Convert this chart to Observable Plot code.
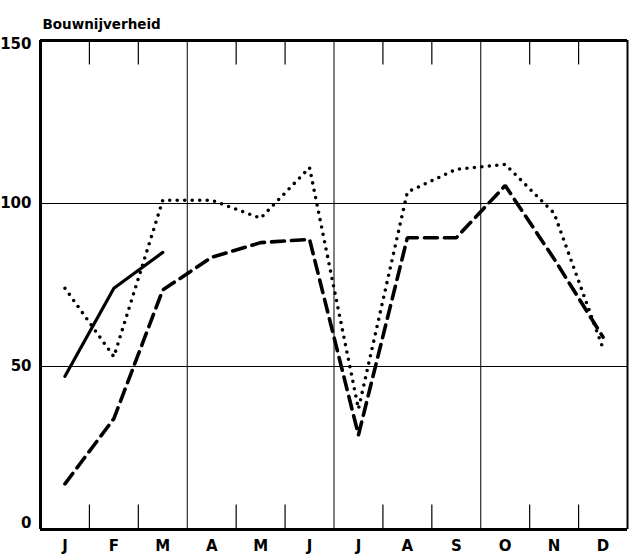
<!DOCTYPE html>
<html>
<head>
<meta charset="utf-8">
<script src="https://cdn.jsdelivr.net/npm/d3@7"></script>
<script src="https://cdn.jsdelivr.net/npm/@observablehq/plot@0.6"></script>
<style>
  html, body { margin: 0; padding: 0; background: #fff; }
  #chart svg { display: block; }
</style>
</head>
<body>
<div id="chart"></div>
<script>
const months = ["J","F","M","A","M","J","J","A","S","O","N","D"];
const solidSeries = [47, 74, 85];
const dottedSeries = [74, 53, 101, 101, 95.5, 111, 37, 103.5, 110.5, 112, 97, 55.5];
const dashedSeries = [14, 34, 73.5, 83.5, 88, 89, 29, 89.5, 89.5, 105.5, 83, 59];
const yTicks = [0, 50, 100, 150];
const title = "Bouwnijverheid";

const font = "DejaVu Sans, sans-serif";
const toRows = arr => arr.map((v, i) => ({i, v}));
const boundaries = months.slice(1).map((_, i) => i + 0.5);
const quarterBounds = boundaries.filter((b, k) => (k + 1) % 3 === 0);
const minorBounds = boundaries.filter((b, k) => (k + 1) % 3 !== 0);
const yMid = yTicks.filter(d => d !== 0 && d !== 150);
const yLabelOpts = {x: -0.5, y: d => d, text: d => String(d), textAnchor: "end", dx: -9,
  fontSize: 15, fontWeight: "bold", fill: "#000"};

const chart = Plot.plot({
  width: 630,
  height: 555,
  marginLeft: 40,
  marginRight: 3,
  marginTop: 40,
  marginBottom: 26,
  style: {fontFamily: font, background: "#fff"},
  x: {domain: [-0.5, months.length - 0.5], axis: null},
  y: {domain: [0, 150], axis: null},
  marks: [
    // gridlines
    Plot.ruleY([50, 100], {stroke: "#000", strokeWidth: 1}),
    Plot.ruleX(quarterBounds, {stroke: "#000", strokeWidth: 1}),
    // month boundary ticks (bottom and top)
    Plot.ruleX(minorBounds, {y1: 0, y2: 7.5, stroke: "#000", strokeWidth: 1.2}),
    Plot.ruleX(minorBounds, {y1: 142.5, y2: 150, stroke: "#000", strokeWidth: 1.2}),
    // frame
    Plot.ruleY([0, 150], {stroke: "#000", strokeWidth: 3}),
    Plot.ruleX([-0.5], {stroke: "#000", strokeWidth: 3}),
    Plot.ruleX([months.length - 0.5], {stroke: "#000", strokeWidth: 2}),
    // series
    Plot.line(toRows(dashedSeries), {x: "i", y: "v", stroke: "#000", strokeWidth: 3.6, strokeDasharray: "13,7", strokeLinejoin: "miter"}),
    Plot.line(toRows(dottedSeries), {x: "i", y: "v", stroke: "#000", strokeWidth: 3.6, strokeDasharray: "0,7.5", strokeLinecap: "round", strokeLinejoin: "round"}),
    Plot.line(toRows(solidSeries), {x: "i", y: "v", stroke: "#000", strokeWidth: 3.2}),
    // y labels
    Plot.text(yMid, yLabelOpts),
    Plot.text([150], {...yLabelOpts, dy: 4}),
    Plot.text([0], {...yLabelOpts, dy: -6}),
    // month labels
    Plot.text(months, {x: (d, i) => i, y: 0, text: d => d, dy: 17, fontSize: 15, fontWeight: "bold", fill: "#000"}),
    // title
    Plot.text([title], {frameAnchor: "top-left", dx: 2, dy: -21, textAnchor: "start", fontSize: 13.5, fontWeight: "bold", fill: "#000"})
  ]
});
document.getElementById("chart").appendChild(chart);
</script>
</body>
</html>
